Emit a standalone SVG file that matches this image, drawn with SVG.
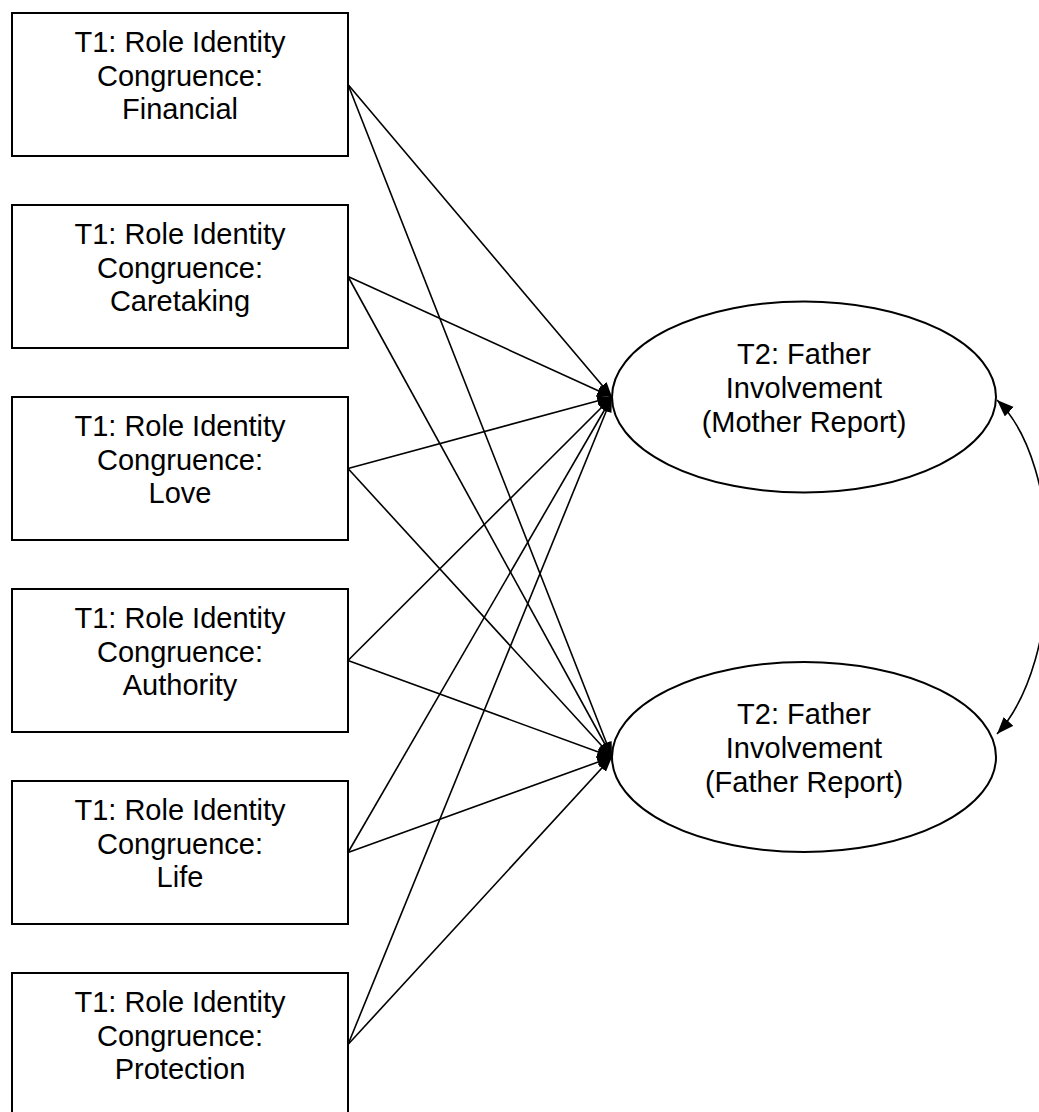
<svg xmlns="http://www.w3.org/2000/svg" width="1039" height="1112" viewBox="0 0 1039 1112">
<style>
.box{fill:#fff;stroke:#000;stroke-width:2}
.ell{fill:#fff;stroke:#000;stroke-width:2}
.t{font-family:"Liberation Sans",Arial,sans-serif;font-size:29px;fill:#000;text-anchor:middle}
.c{fill:none;stroke:#000;stroke-width:1.6}
</style>
<defs>
<marker id="ah" markerUnits="userSpaceOnUse" markerWidth="16" markerHeight="12" refX="15" refY="5.5" orient="auto">
<path d="M0,0 L15,5.5 L0,11 z" fill="#000"/>
</marker>
<marker id="ahc" markerUnits="userSpaceOnUse" markerWidth="18" markerHeight="14" refX="17" refY="6.5" orient="auto-start-reverse">
<path d="M0,0 L17,6.5 L0,13 z" fill="#000"/>
</marker>
</defs>
<g id="connectors">
<line class="c" x1="348" y1="84.5" x2="612" y2="397" marker-end="url(#ah)"/>
<line class="c" x1="348" y1="84.5" x2="612" y2="757" marker-end="url(#ah)"/>
<line class="c" x1="348" y1="276.5" x2="612" y2="397" marker-end="url(#ah)"/>
<line class="c" x1="348" y1="276.5" x2="612" y2="757" marker-end="url(#ah)"/>
<line class="c" x1="348" y1="468.5" x2="612" y2="397" marker-end="url(#ah)"/>
<line class="c" x1="348" y1="468.5" x2="612" y2="757" marker-end="url(#ah)"/>
<line class="c" x1="348" y1="660.5" x2="612" y2="397" marker-end="url(#ah)"/>
<line class="c" x1="348" y1="660.5" x2="612" y2="757" marker-end="url(#ah)"/>
<line class="c" x1="348" y1="852.5" x2="612" y2="397" marker-end="url(#ah)"/>
<line class="c" x1="348" y1="852.5" x2="612" y2="757" marker-end="url(#ah)"/>
<line class="c" x1="348" y1="1044.5" x2="612" y2="397" marker-end="url(#ah)"/>
<line class="c" x1="348" y1="1044.5" x2="612" y2="757" marker-end="url(#ah)"/>
<path class="c" d="M997,400 C1065,465 1065,660 997,734" marker-start="url(#ahc)" marker-end="url(#ahc)"/>
</g>
<g id="box-financial">
<rect class="box" x="12" y="13" width="336" height="143"/>
<text class="t" x="180" y="52">T1: Role Identity</text>
<text class="t" x="180" y="85.5">Congruence:</text>
<text class="t" x="180" y="119">Financial</text>
</g>
<g id="box-caretaking">
<rect class="box" x="12" y="205" width="336" height="143"/>
<text class="t" x="180" y="244">T1: Role Identity</text>
<text class="t" x="180" y="277.5">Congruence:</text>
<text class="t" x="180" y="311">Caretaking</text>
</g>
<g id="box-love">
<rect class="box" x="12" y="397" width="336" height="143"/>
<text class="t" x="180" y="436">T1: Role Identity</text>
<text class="t" x="180" y="469.5">Congruence:</text>
<text class="t" x="180" y="503">Love</text>
</g>
<g id="box-authority">
<rect class="box" x="12" y="589" width="336" height="143"/>
<text class="t" x="180" y="628">T1: Role Identity</text>
<text class="t" x="180" y="661.5">Congruence:</text>
<text class="t" x="180" y="695">Authority</text>
</g>
<g id="box-life">
<rect class="box" x="12" y="781" width="336" height="143"/>
<text class="t" x="180" y="820">T1: Role Identity</text>
<text class="t" x="180" y="853.5">Congruence:</text>
<text class="t" x="180" y="887">Life</text>
</g>
<g id="box-protection">
<rect class="box" x="12" y="973" width="336" height="143"/>
<text class="t" x="180" y="1012">T1: Role Identity</text>
<text class="t" x="180" y="1045.5">Congruence:</text>
<text class="t" x="180" y="1079">Protection</text>
</g>
<g id="ellipse-mother">
<ellipse class="ell" cx="804" cy="397" rx="192" ry="95.5"/>
<text class="t" x="804" y="364">T2: Father</text>
<text class="t" x="804" y="398">Involvement</text>
<text class="t" x="804" y="432">(Mother Report)</text>
</g>
<g id="ellipse-father">
<ellipse class="ell" cx="804" cy="757" rx="192" ry="95"/>
<text class="t" x="804" y="724">T2: Father</text>
<text class="t" x="804" y="758">Involvement</text>
<text class="t" x="804" y="792">(Father Report)</text>
</g>
</svg>
